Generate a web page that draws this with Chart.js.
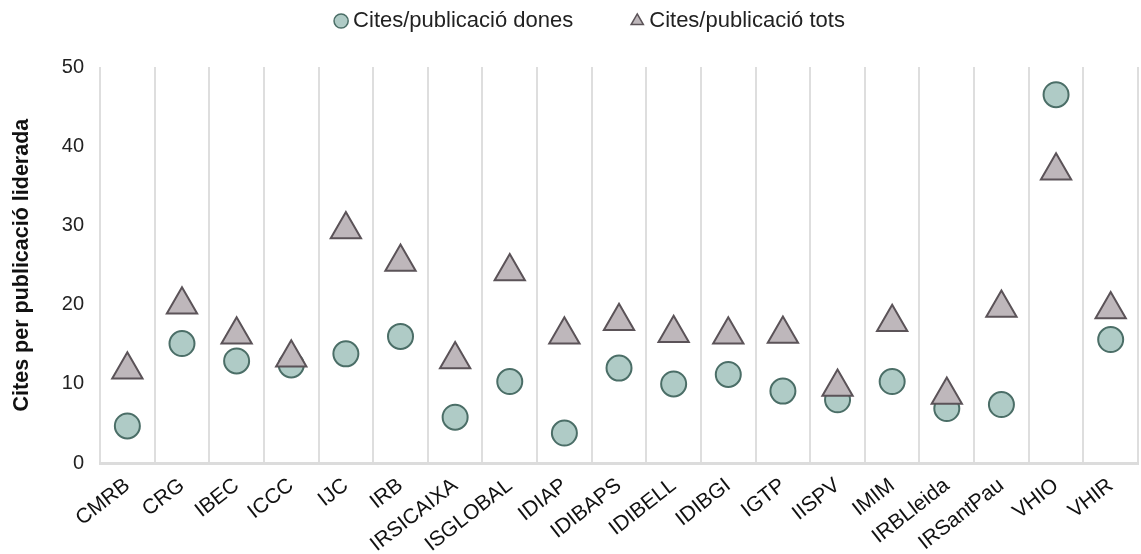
<!DOCTYPE html>
<html>
<head>
<meta charset="utf-8">
<script src="https://cdn.jsdelivr.net/npm/chart.js@4"></script>
<style>
html,body{margin:0;padding:0;background:#fff;}
#wrap{width:1141px;height:554px;}
</style>
</head>
<body>
<div id="wrap"><canvas id="c" width="1141" height="554"></canvas></div>
<script>
const categories = ["CMRB","CRG","IBEC","ICCC","IJC","IRB","IRSICAIXA","ISGLOBAL","IDIAP","IDIBAPS","IDIBELL","IDIBGI","IGTP","IISPV","IMIM","IRBLleida","IRSantPau","VHIO","VHIR"];
const citesDones = [4.7,15.1,12.9,12.4,13.8,16.0,5.8,10.3,3.8,12.0,10.0,11.2,9.1,8.0,10.3,6.9,7.4,46.5,15.6];
const citesTots  = [11.8,20.0,16.2,13.3,29.5,25.4,13.1,24.2,16.2,17.9,16.4,16.2,16.3,9.6,17.8,8.6,19.6,36.9,19.4];
const yTicks = [0,10,20,30,40,50];
const seriesNames = ["Cites/publicació dones","Cites/publicació tots"];

const FONT = "'Liberation Sans', Arial, Helvetica, sans-serif";
Chart.defaults.font.family = FONT;
Chart.defaults.color = "#222";

const LEGEND_HEIGHT = 120;
const LEGEND_SHIFT = 19;
const legendPlugin = {
  id: 'legendTweak',
  beforeInit(chart) {
    const orig = chart.legend.fit;
    chart.legend.fit = function () {
      orig.bind(chart.legend)();
      this.height = LEGEND_HEIGHT;
    };
  },
  beforeDraw(chart) {
    if (!chart.$legendShifted) {
      chart.legend.left += LEGEND_SHIFT;
      chart.legend.right += LEGEND_SHIFT;
      chart.$legendShifted = true;
    }
  }
};

new Chart(document.getElementById('c'), {
  type: 'line',
  plugins: [legendPlugin],
  data: {
    labels: categories,
    datasets: [
      {
        label: seriesNames[0],
        data: citesDones,
        order: 1,
        showLine: false,
        pointStyle: 'circle',
        pointRadius: 12.5,
        pointHoverRadius: 12.5,
        backgroundColor: '#afcbc6',
        borderColor: '#4b6e67',
        pointBorderWidth: 2
      },
      {
        label: seriesNames[1],
        data: citesTots,
        order: 0,
        showLine: false,
        pointStyle: 'triangle',
        pointRadius: 17.5,
        pointHoverRadius: 17.5,
        backgroundColor: '#beb7bb',
        borderColor: '#5b5358',
        pointBorderWidth: 2
      }
    ]
  },
  options: {
    responsive: false,
    animation: false,
    layout: { autoPadding: false, padding: { top: -53, right: 3, left: 9, bottom: -13 } },
    plugins: {
      tooltip: { enabled: false },
      legend: {
        position: 'top',
        labels: {
          usePointStyle: true,
          boxWidth: 2,
          boxHeight: 10,
          padding: 63,
          font: { size: 22 },
          color: '#222',
          sort: (a, b) => a.datasetIndex - b.datasetIndex,
          generateLabels(chart) {
            const items = Chart.defaults.plugins.legend.labels.generateLabels(chart);
            items.forEach(it => { it.lineWidth = 1.5; });
            return items;
          }
        }
      }
    },
    scales: {
      x: {
        offset: true,
        grid: { display: true, offset: true, color: '#dedede', lineWidth: 2, drawTicks: false },
        border: { display: true, color: '#dcdcdc', width: 3 },
        ticks: { maxRotation: 38, minRotation: 38, autoSkip: false, font: { size: 21 }, color: '#111', padding: 10 },
        afterFit(scale) { scale.paddingLeft = 0; scale.paddingRight = 0; }
      },
      y: {
        min: 0, max: 50,
        afterBuildTicks(axis) { axis.ticks = yTicks.map(v => ({ value: v })); },
        grid: { display: false, drawTicks: false },
        border: { display: false },
        ticks: { font: { size: 20 }, color: '#222', padding: 16 },
        title: { display: true, text: 'Cites per publicació liderada', font: { size: 21.5, weight: 'bold' }, color: '#111', padding: { top: 0, bottom: 11 } }
      }
    }
  }
});
</script>
</body>
</html>
